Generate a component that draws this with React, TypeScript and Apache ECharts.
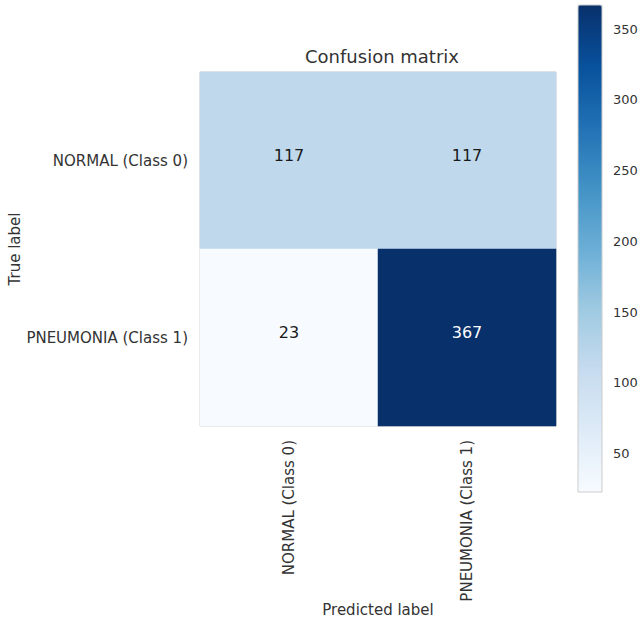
import React, { useEffect, useRef } from "react";
import * as echarts from "echarts";

const predictedLabels = ["NORMAL (Class 0)", "PNEUMONIA (Class 1)"];
const trueLabels = ["NORMAL (Class 0)", "PNEUMONIA (Class 1)"];
// rows = true label, cols = predicted label
const row0 = [117, 117];
const row1 = [23, 367];
const colorbarTicks = [50, 100, 150, 200, 250, 300, 350];
const vMin = 23;
const vMax = 367;

const blues = ["#f7fbff", "#deebf7", "#c6dbef", "#9ecae1", "#6baed6", "#4292c6", "#2171b5", "#08519c", "#08306b"];

export default function App() {
  const ref = useRef<HTMLDivElement>(null);
  useEffect(() => {
    if (!ref.current) return;
    const chart = echarts.init(ref.current, null, { renderer: "svg" });
    const rows = [row0, row1];
    const data: any[] = [];
    rows.forEach((r, yi) =>
      r.forEach((v, xi) => {
        const t = (v - vMin) / (vMax - vMin);
        data.push({
          value: [xi, yi, v],
          label: { color: t > 0.5 ? "#ffffff" : "#1a1a1a" },
        });
      })
    );
    const font = "DejaVu Sans";
    const txt = "#333333";
    chart.setOption({
      animation: false,
      backgroundColor: "#ffffff",
      textStyle: { fontFamily: font },
      title: {
        text: "Confusion matrix",
        left: 377,
        top: 42,
        textAlign: "center",
        textStyle: { fontFamily: font, fontSize: 18, fontWeight: "normal", color: txt },
      },
      grid: [
        { left: 200, top: 72, width: 356, height: 354, outerBoundsMode: "none", containLabel: false, show: true, borderColor: "#cccccc", borderWidth: 1, backgroundColor: "transparent" },
        { left: 578, top: 5, width: 24, height: 487, outerBoundsMode: "none", containLabel: false, show: true, borderColor: "#cccccc", borderWidth: 1, backgroundColor: "transparent", z: 5 },
      ],
      xAxis: [
        {
          type: "category",
          gridIndex: 0,
          data: predictedLabels,
          position: "bottom",
          name: "Predicted label",
          nameLocation: "middle",
          nameGap: 176,
          nameMoveOverlap: false,
          nameTextStyle: { fontFamily: font, fontSize: 15, color: txt },
          axisLine: { show: false },
          axisTick: { show: false },
          splitLine: { show: false },
          axisLabel: { rotate: 90, margin: 14, fontFamily: font, fontSize: 15, color: txt },
        },
        { type: "value", gridIndex: 1, show: false, min: 0, max: 1 },
      ],
      yAxis: [
        {
          type: "category",
          gridIndex: 0,
          data: trueLabels,
          inverse: true,
          name: "True label",
          nameLocation: "middle",
          nameGap: 178,
          nameRotate: 90,
          nameMoveOverlap: false,
          nameTextStyle: { fontFamily: font, fontSize: 15, color: txt },
          axisLine: { show: false },
          axisTick: { show: false },
          splitLine: { show: false },
          axisLabel: { margin: 12, fontFamily: font, fontSize: 15, color: txt },
        },
        {
          type: "value",
          gridIndex: 1,
          position: "right",
          min: vMin,
          max: vMax,
          axisLine: { show: false },
          splitLine: { show: false },
          axisTick: { show: true, length: 5, inside: false, lineStyle: { color: txt }, customValues: colorbarTicks },
          axisLabel: { margin: 11, fontFamily: font, fontSize: 13, color: txt, customValues: colorbarTicks },
        },
      ],
      visualMap: {
        type: "continuous",
        seriesIndex: 0,
        min: vMin,
        max: vMax,
        calculable: false,
        show: true,
        orient: "vertical",
        left: 578,
        top: 5,
        padding: 0,
        itemWidth: 24,
        itemHeight: 487,
        text: null,
        showLabel: false,
        inRange: { color: blues },
      },
      series: [
        {
          type: "heatmap",
          xAxisIndex: 0,
          yAxisIndex: 0,
          data,
          label: { show: true, fontFamily: font, fontSize: 16, offset: [0, -5] },
          itemStyle: { borderWidth: 0 },
          emphasis: { disabled: true },
        },
      ],
    });
    return () => chart.dispose();
  }, []);
  return <div ref={ref} style={{ position: "absolute", left: 0, top: 0, width: 644, height: 623 }} />;
}
